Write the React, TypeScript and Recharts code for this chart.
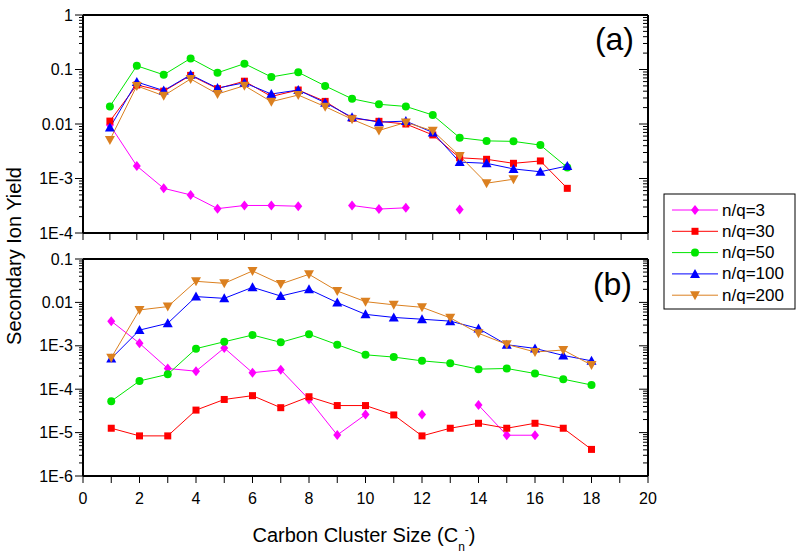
import { LineChart, Line, XAxis, YAxis, ReferenceLine } from 'recharts';

// cluster sizes C1..C18
const CLUSTER_SIZES = [1, 2, 3, 4, 5, 6, 7, 8, 9, 10, 11, 12, 13, 14, 15, 16, 17, 18];

// panel (a) yields
const A_NQ3 = [0.0096, 0.0017, 0.00066, 0.0005, 0.00028, 0.00032, 0.00032, 0.00031, null, 0.00032, 0.000275, 0.00029, null, 0.00027, null, null, null, null];
const A_NQ30 = [0.0113, 0.052, 0.04, 0.078, 0.0445, 0.061, 0.032, 0.042, 0.026, 0.0127, 0.0112, 0.01, 0.0063, 0.0024, 0.00225, 0.0019, 0.0021, 0.00066];
const A_NQ50 = [0.021, 0.117, 0.08, 0.16, 0.087, 0.128, 0.073, 0.089, 0.05, 0.029, 0.023, 0.021, 0.0146, 0.0056, 0.0049, 0.0048, 0.0041, 0.0016];
const A_NQ100 = [0.0086, 0.059, 0.041, 0.08, 0.0457, 0.057, 0.0355, 0.042, 0.0246, 0.0133, 0.0108, 0.0113, 0.007, 0.002, 0.0019, 0.0015, 0.00133, 0.0017];
const A_NQ200 = [0.0051, 0.05, 0.033, 0.067, 0.0355, 0.0505, 0.0257, 0.034, 0.0208, 0.0122, 0.0076, 0.0107, 0.0075, 0.0026, 0.00082, 0.00097, null, null];

// panel (b) yields
const B_NQ3 = [0.0037, 0.00114, 0.0003, 0.00026, 0.00089, 0.00024, 0.00028, 0.000058, 0.0000088, 0.000026, null, 0.000026, null, 0.000043, 0.0000087, 0.0000087, null, null];
const B_NQ30 = [0.0000126, 0.0000084, 0.0000084, 0.000033, 0.000058, 0.000071, 0.0000375, 0.000067, 0.000042, 0.000042, 0.0000255, 0.0000084, 0.0000126, 0.0000164, 0.0000126, 0.0000164, 0.0000126, 0.0000041];
const B_NQ50 = [0.000053, 0.000155, 0.00022, 0.00086, 0.00124, 0.00177, 0.0012, 0.00184, 0.00106, 0.00062, 0.00055, 0.00045, 0.000395, 0.00029, 0.0003, 0.00023, 0.00017, 0.000125];
const B_NQ100 = [0.00051, 0.0023, 0.0033, 0.0136, 0.0124, 0.0223, 0.014, 0.02, 0.0099, 0.0053, 0.0045, 0.0041, 0.0037, 0.0025, 0.00106, 0.00087, 0.0006, 0.00045];
const B_NQ200 = [0.00053, 0.0067, 0.008, 0.0306, 0.0275, 0.053, 0.0265, 0.0444, 0.0183, 0.0104, 0.0088, 0.0077, 0.0044, 0.00194, 0.00108, 0.00072, 0.0008, 0.00036];

const A_MAJOR = [1e-4, 1e-3, 0.01, 0.1, 1];
const A_LABELS = ['1E-4', '1E-3', '0.01', '0.1', '1'];
const B_MAJOR = [1e-6, 1e-5, 1e-4, 1e-3, 0.01, 0.1];
const B_LABELS = ['1E-6', '1E-5', '1E-4', '1E-3', '0.01', '0.1'];
const X_LABELS = ['0', '2', '4', '6', '8', '10', '12', '14', '16', '18', '20'];

const SERIES = [
  { key: 'nq3', name: 'n/q=3', color: '#FF00FF', shape: 'diamond' },
  { key: 'nq30', name: 'n/q=30', color: '#FF0000', shape: 'square' },
  { key: 'nq50', name: 'n/q=50', color: '#00E600', shape: 'circle' },
  { key: 'nq100', name: 'n/q=100', color: '#0000FF', shape: 'up' },
  { key: 'nq200', name: 'n/q=200', color: '#DB8020', shape: 'down' },
];

const buildRows = (cols: (number | null)[][]) =>
  CLUSTER_SIZES.map((n, i) => {
    const row: any = { n };
    SERIES.forEach((s, j) => { row[s.key] = cols[j][i]; });
    return row;
  });

const dataA = buildRows([A_NQ3, A_NQ30, A_NQ50, A_NQ100, A_NQ200]);
const dataB = buildRows([B_NQ3, B_NQ30, B_NQ50, B_NQ100, B_NQ200]);

const FONT = '"Liberation Sans", Arial, sans-serif';
const PLOT_W = 565;

// all tick marks for a log axis: majors plus 2..9 minors
const logTicks = (majors: number[]) => {
  const out: number[] = [];
  majors.forEach((m, i) => {
    out.push(m);
    if (i < majors.length - 1) for (let k = 2; k <= 9; k++) out.push(m * k);
  });
  return out;
};

function Marker({ shape, cx, cy, color }: any) {
  switch (shape) {
    case 'diamond':
      return <polygon points={`${cx},${cy - 5} ${cx + 4},${cy} ${cx},${cy + 5} ${cx - 4},${cy}`} fill={color} />;
    case 'square':
      return <rect x={cx - 3.5} y={cy - 3.5} width={7} height={7} fill={color} />;
    case 'circle':
      return <circle cx={cx} cy={cy} r={4} fill={color} />;
    case 'up':
      return <polygon points={`${cx},${cy - 5} ${cx + 5},${cy + 4} ${cx - 5},${cy + 4}`} fill={color} />;
    default:
      return <polygon points={`${cx},${cy + 5} ${cx + 5},${cy - 4} ${cx - 5},${cy - 4}`} fill={color} />;
  }
}

function YTick({ x, y, payload, majors, labels }: any) {
  const idx = majors.findIndex((m: number) => Math.abs(m - payload.value) / m < 1e-6);
  const major = idx >= 0;
  return (
    <g>
      <line x1={x - (major ? 8 : 4)} x2={x} y1={y} y2={y} stroke="#000" />
      <line x1={x + PLOT_W - (major ? 9 : 5)} x2={x + PLOT_W} y1={y} y2={y} stroke="#000" />
      {major && (
        <text x={x - 10} y={y} textAnchor="end" dominantBaseline="central" fontSize={16} fontFamily={FONT} fill="#000">
          {labels[idx]}
        </text>
      )}
    </g>
  );
}

function XTick({ x, y, payload, showLabels }: any) {
  const v = payload.value;
  return (
    <g>
      <line x1={x} x2={x} y1={y} y2={y + 7} stroke="#000" />
      {showLabels && v % 2 === 0 && (
        <text x={x} y={y + 22} textAnchor="middle" dominantBaseline="central" fontSize={16} fontFamily={FONT} fill="#000">
          {X_LABELS[v / 2]}
        </text>
      )}
    </g>
  );
}

function Panel({ data, majors, labels, xMax, height, bottom, showLabels }: any) {
  const yDomain = [majors[0], majors[majors.length - 1]];
  const xTicks = Array.from({ length: xMax + 1 }, (_, i) => i);
  return (
    <LineChart width={800} height={height} data={data} margin={{ top: 15, right: 152, left: 10, bottom }}>
      <XAxis
        type="number"
        dataKey="n"
        domain={[0, xMax]}
        ticks={xTicks}
        interval={0}
        tickSize={0}
        tickMargin={0}
        tickLine={false}
        height={showLabels ? 40 : 17}
        axisLine={{ stroke: '#000', strokeWidth: 2 }}
        tick={(p: any) => <XTick {...p} showLabels={showLabels} />}
      />
      <YAxis
        scale="log"
        domain={yDomain}
        allowDataOverflow
        ticks={logTicks(majors)}
        interval={0}
        tickSize={0}
        tickMargin={0}
        tickLine={false}
        width={73}
        axisLine={{ stroke: '#000', strokeWidth: 2 }}
        tick={(p: any) => <YTick {...p} majors={majors} labels={labels} />}
      />
      <ReferenceLine y={yDomain[1]} stroke="#000" strokeWidth={2} />
      <ReferenceLine x={xMax} stroke="#000" strokeWidth={2} />
      {SERIES.map((s) => (
        <Line
          key={s.key}
          dataKey={s.key}
          stroke={s.color}
          strokeWidth={1}
          isAnimationActive={false}
          connectNulls={false}
          dot={(p: any) =>
            p.cy == null || p.value == null ? (
              <g key={`${s.key}-${p.index}`} />
            ) : (
              <Marker key={`${s.key}-${p.index}`} shape={s.shape} cx={p.cx} cy={p.cy} color={s.color} />
            )
          }
          activeDot={false}
        />
      ))}
    </LineChart>
  );
}

export default function App() {
  return (
    <div style={{ position: 'absolute', left: 0, top: 0, width: 800, height: 560, background: '#fff' }}>
      <div style={{ position: 'absolute', left: 0, top: 0 }}>
        <Panel data={dataA} majors={A_MAJOR} labels={A_LABELS} xMax={21} height={250} bottom={0} showLabels={false} />
      </div>
      <div style={{ position: 'absolute', left: 0, top: 244 }}>
        <Panel data={dataB} majors={B_MAJOR} labels={B_LABELS} xMax={20} height={316} bottom={44} showLabels />
      </div>
      <svg width={800} height={560} style={{ position: 'absolute', left: 0, top: 0, pointerEvents: 'none' }}>
        <g fontFamily={FONT} fill="#000">
          <text transform="translate(21,256) rotate(-90)" textAnchor="middle" fontSize={20}>
            Secondary Ion Yield
          </text>
          <text x={364} y={542} textAnchor="middle" fontSize={20}>
            Carbon Cluster Size (C
            <tspan fontSize={12} dy={9}>n</tspan>
            <tspan fontSize={12} dy={-17}>-</tspan>
            <tspan dy={8}>)</tspan>
          </text>
          <text x={634} y={50} textAnchor="end" fontSize={32}>(a)</text>
          <text x={632} y={295} textAnchor="end" fontSize={32}>(b)</text>
        </g>
        <rect x={664} y={194} width={131} height={115} fill="#fff" stroke="#000" strokeWidth={1} />
        {SERIES.map((s, i) => {
          const ly = 210 + i * 21.3;
          return (
            <g key={s.key}>
              <line x1={672} x2={718} y1={ly} y2={ly} stroke={s.color} strokeWidth={1} />
              <Marker shape={s.shape} cx={695} cy={ly} color={s.color} />
              <text x={722} y={ly} dominantBaseline="central" fontSize={17} fontFamily={FONT} fill="#000">
                {s.name}
              </text>
            </g>
          );
        })}
      </svg>
    </div>
  );
}
